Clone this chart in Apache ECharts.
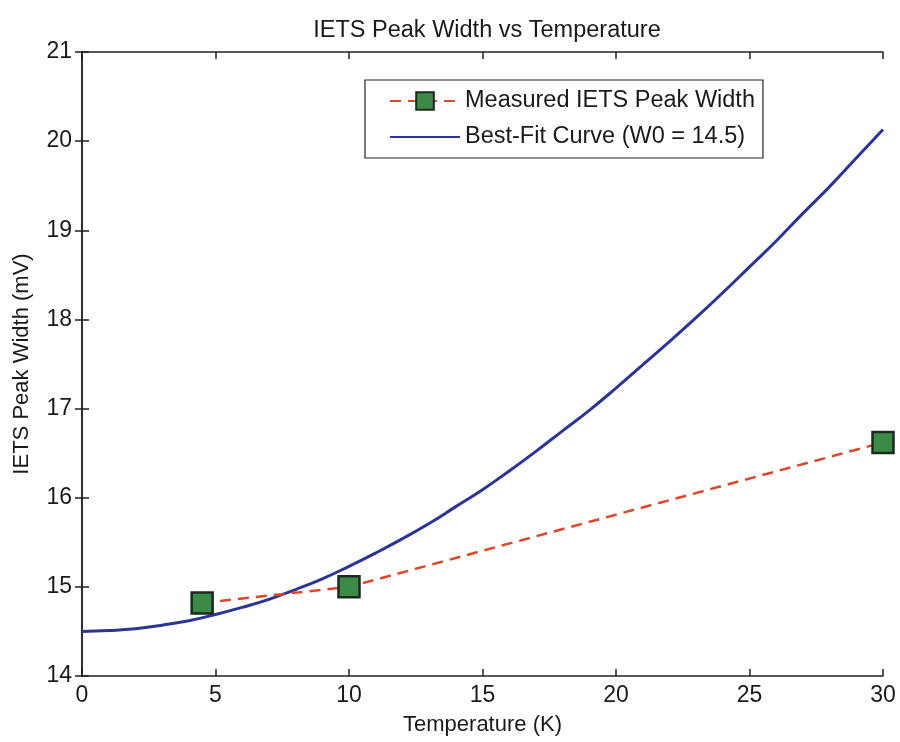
<!DOCTYPE html>
<html>
<head>
<meta charset="utf-8">
<script src="https://cdn.jsdelivr.net/npm/echarts@6/dist/echarts.min.js"></script>
<style>html,body{margin:0;padding:0;background:#fff;}#c{width:900px;height:742px;}</style>
</head>
<body>
<div id="c"></div>
<script>
var titleText = 'IETS Peak Width vs Temperature';
var xName = 'Temperature (K)';
var yName = 'IETS Peak Width (mV)';
var measuredName = 'Measured IETS Peak Width';
var fitName = 'Best-Fit Curve (W0 = 14.5)';
var measuredT = [4.5, 10, 30];
var measuredW = [14.82, 15.0, 16.62];
var fitT = [0,1,2,3,4,5,6,7,8,9,10,11,12,13,14,15,16,17,18,19,20,21,22,23,24,25,26,27,28,29,30];
var fitW = [14.50,14.51,14.53,14.57,14.62,14.69,14.77,14.86,14.97,15.09,15.23,15.38,15.54,15.71,15.90,16.09,16.30,16.52,16.75,16.98,17.23,17.49,17.75,18.02,18.30,18.59,18.88,19.19,19.49,19.81,20.13];

var font = 'Liberation Sans, Arial, sans-serif';
var txt = '#1a1a1a';
function pairs(xs, ys){ return xs.map(function(x,i){ return [x, ys[i]]; }); }

var chart = echarts.init(document.getElementById('c'), null, {renderer:'canvas'});
var axisLine = {show:true, lineStyle:{color:'#222', width:1.5}};
var tick = {show:true, inside:true, length:7, lineStyle:{color:'#222', width:1.5}};
chart.setOption({
  backgroundColor:'#fff',
  animation:false,
  title:{text:titleText, left:482, top:14, textAlign:'center',
    textStyle:{fontFamily:font, fontSize:23.5, fontWeight:'normal', color:txt}},
  grid:{left:82, right:17, top:52, bottom:66, containLabel:false},
  legend:{
    left:365, top:80, orient:'vertical',
    backgroundColor:'#fff', borderColor:'#222', borderWidth:1.2,
    padding:[9,8,9,24], itemWidth:70, itemHeight:22, itemGap:12,
    textStyle:{fontFamily:font, fontSize:23.5, color:txt},
    data:[measuredName, {name:fitName, itemStyle:{opacity:0}}]
  },
  xAxis:[{
    type:'value', min:0, max:30, interval:5, position:'bottom',
    name:xName, nameLocation:'middle', nameGap:38,
    nameTextStyle:{fontFamily:font, fontSize:22, color:txt},
    axisLine:axisLine, axisTick:tick, splitLine:{show:false},
    axisLabel:{fontFamily:font, fontSize:23, color:txt, margin:8}
  },{
    type:'value', min:0, max:30, interval:5, position:'top',
    axisLine:axisLine, axisTick:tick, splitLine:{show:false}, axisLabel:{show:false}
  }],
  yAxis:[{
    type:'value', min:14, max:21, interval:1, position:'left',
    name:yName, nameLocation:'middle', nameGap:49,
    nameTextStyle:{fontFamily:font, fontSize:22, color:txt},
    axisLine:axisLine, axisTick:tick, splitLine:{show:false},
    axisLabel:{fontFamily:font, fontSize:23, color:txt, margin:10}
  },{
    type:'value', min:14, max:21, interval:1, position:'right',
    axisLine:axisLine, axisTick:tick, splitLine:{show:false}, axisLabel:{show:false}
  }],
  series:[{
    name:measuredName, type:'line', xAxisIndex:0, yAxisIndex:0,
    data:pairs(measuredT, measuredW),
    symbol:'rect', symbolSize:21, z:3,
    lineStyle:{color:'#dc4629', width:2.5, type:[11,7]},
    itemStyle:{color:'#3c8a47', borderColor:'#1c2a1f', borderWidth:2.5}
  },{
    name:fitName, type:'line', xAxisIndex:0, yAxisIndex:0,
    data:pairs(fitT, fitW), smooth:true, showSymbol:false, symbol:'none', z:2,
    lineStyle:{color:'#2b3596', width:3},
    itemStyle:{color:'#2b3596'}
  }]
});
</script>
</body>
</html>
